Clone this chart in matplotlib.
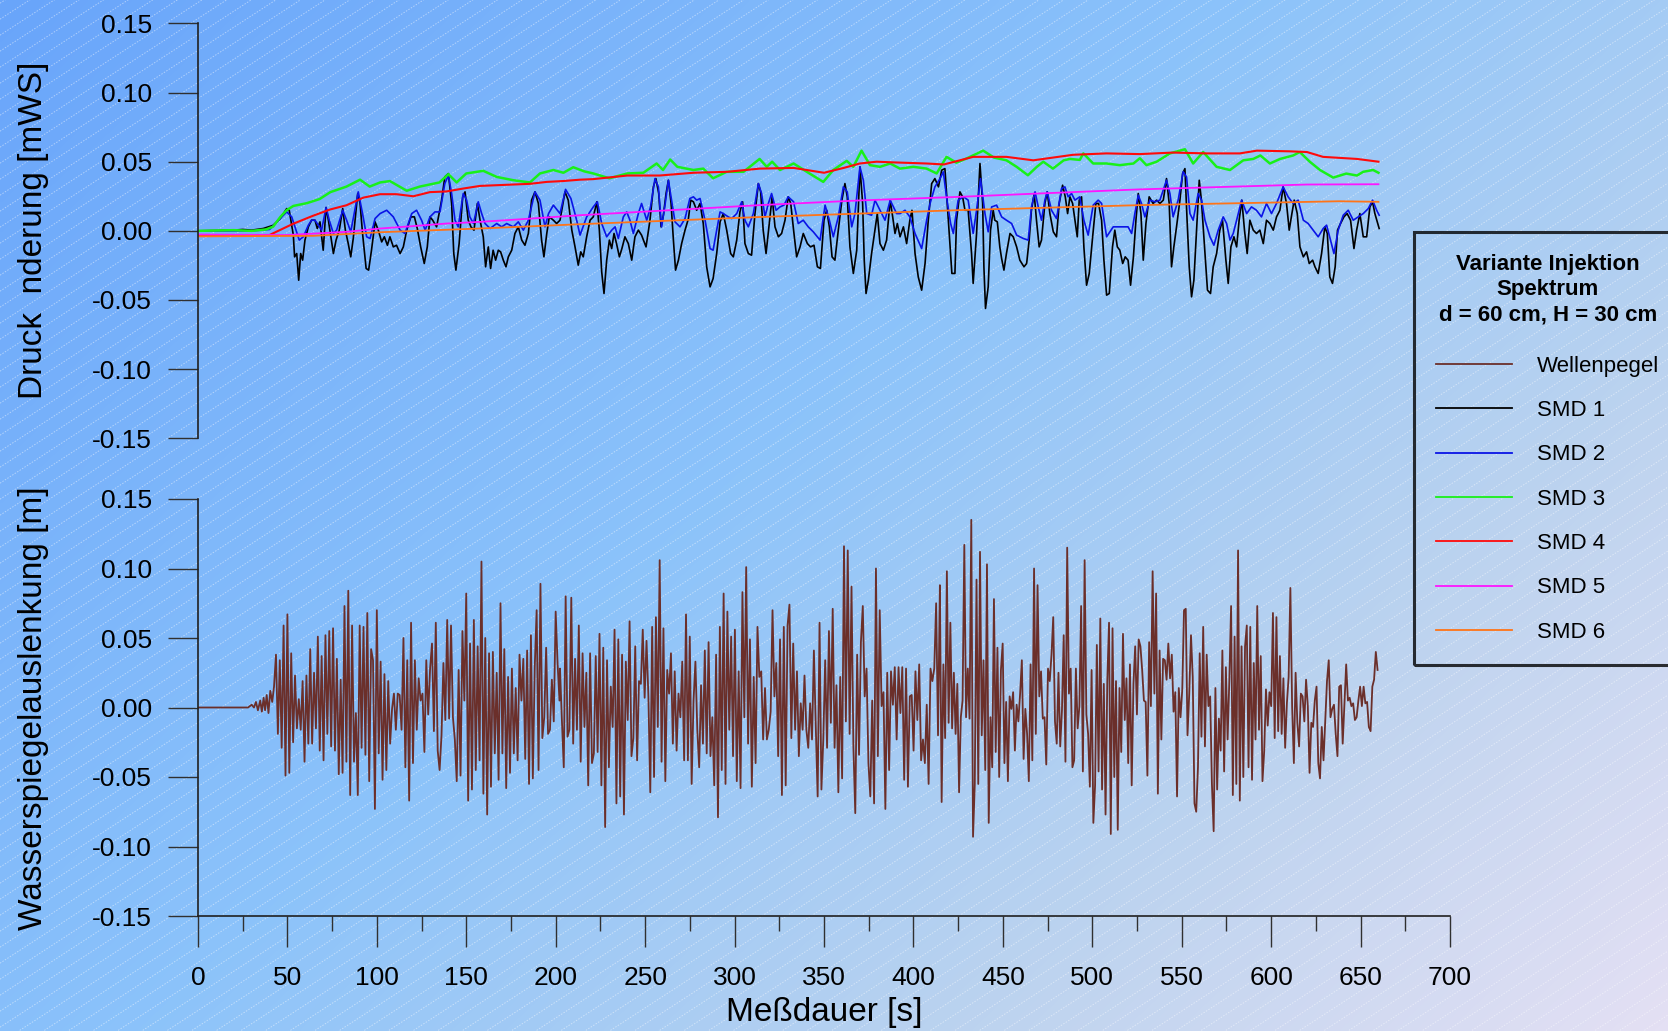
import numpy as np
import matplotlib
matplotlib.use("Agg")
import matplotlib.pyplot as plt
from matplotlib.colors import LinearSegmentedColormap

plt.rcParams['font.family'] = ['Liberation Sans', 'DejaVu Sans']
plt.rcParams['axes.unicode_minus'] = False

# ---------------- data (time [s], value [mm]) ----------------
smd1_points = [(0,0),(20,0.5),(25,1),(30,0.5),(36.5,1.7),(42,4),(46,8.9),(49.6,16.1),(51,14.9),(53.3,-3.1),(54,-18.8),(55.2,-16.4),(56.3,-35.7),(57.4,-16.4),(58.5,-21.2),(59.8,-6.7),(61.7,2.9),(63.5,7.7),(65.4,7.7),(66.7,1.7),(68.2,6.5),(70,-14),(71.6,16.9),(72.9,7.7),(74.4,-5.5),(75.7,-16.4),(77.2,-6.7),(79,0.5),(80.9,16.1),(82.4,0.5),(84,-9.2),(85.4,-18.8),(86.8,-5.5),(89.3,27),(90.6,19.8),(92,-1.9),(94,-27.2),(95.4,-28.4),(97,-14),(99,6.5),(100.8,0.5),(102.7,-8),(104.2,-4.3),(105.9,-10.4),(107.3,-4.3),(109.2,-11.6),(111,-10.4),(113,-16.4),(114.8,-11.6),(116.7,0.5),(119,10.1),(121,10.1),(122.6,1.7),(124.5,-11.6),(126.5,-23.6),(128.2,-11.6),(129.7,10.1),(131.2,7.7),(133.4,2.9),(136.2,22.2),(138,39),(140,41.4),(141.8,19.8),(143,-16.4),(144.2,-28.4),(146,-9.2),(148,24.6),(149.3,28.2),(151.1,7.7),(152.6,2.9),(154.3,0.5),(156.2,19.8),(157.7,7.7),(159.5,-4.3),(160.8,-26),(162.3,-11.6),(163.6,-27.2),(165,-14),(166.4,-21.2),(167.9,-14),(169.2,-15.2),(170.7,-21.2),(172.2,-26),(173.5,-18.8),(175.4,-14),(177.2,-1.9),(179.1,2.9),(181,-6.7),(182.8,-10.4),(184.7,-1.9),(186.5,22.2),(188.4,28.2),(190.3,19.8),(192.1,-6.7),(193.4,-18.8),(195,-1.9),(196.4,10.1),(198.7,7.7),(200.5,5.3),(202.4,7.7),(205.2,28.2),(207,22.2),(209,0.5),(210.8,-11.6),(212.6,-24.8),(214,-15.2),(215.4,-18.8),(217.3,-4.3),(219.2,7.7),(221,10.1),(223,21),(224.4,0.5),(225.7,-29.6),(227,-45.3),(228.5,-21.2),(230,-6.7),(231.3,-12.8),(232.6,-1.9),(234,-9.2),(235.6,-18.8),(237,-12.8),(238.7,-4.3),(240.6,-9.2),(242.5,-21.2),(244.3,-4.3),(246.2,0.5),(248,-3.1),(250.5,-11.6),(252.7,7.7),(254.6,31.8),(256,37.8),(257.6,27),(258.9,2.9),(260.2,11.3),(261.7,27),(263,36.6),(264.5,19.8),(265.8,-6.7),(267,-28.4),(268.6,-21.2),(270.4,-9.2),(272.3,0.5),(274.2,8.9),(275.5,22.2),(277,21),(278.8,14.9),(280.7,19.8),(282.5,5.3),(284.4,-26),(286.3,-40.5),(288,-34.5),(290,-16.4),(291.9,6.5),(293.7,12.5),(295.6,0.5),(297.8,-16.4),(299.3,-18.8),(301.2,-6.7),(303,13.7),(304.5,21),(305.8,-9.2),(307.7,-16.4),(309.5,-17.6),(311.4,12.5),(313.3,34.2),(314.6,28.2),(316,0.5),(317.6,-16.4),(319.4,5.3),(321,24.6),(322.6,2.9),(324.5,-4.3),(326.3,-1.9),(328.2,7.7),(330,24.6),(331.4,19.8),(333,0.5),(334.7,-18.8),(336.6,-11.6),(338.4,-1.9),(340.7,-9.2),(342.5,-11.6),(344.4,-10.4),(346.3,-26),(348,-27.2),(350,7.7),(351.5,14.9),(353,2.9),(354.5,-18.8),(356.1,-21.2),(358,0.5),(360,22.2),(361.7,34.2),(363,24.6),(364.5,-11.6),(366.4,-30.8),(368.3,-14),(370.1,46.3),(371.6,19.8),(372.5,-21.2),(373.5,-45.3),(374.8,-35.7),(376.6,-16.4),(378.5,0.5),(379.8,12.5),(381.3,-9.2),(383.2,-14),(385,-6.7),(387,22.2),(388.4,10.1),(389.7,-1.9),(391,5.3),(392.5,-4.3),(394.4,2.9),(396.2,-9.2),(398,7.7),(399.2,14.9),(400.9,-16.4),(402.7,-33.3),(404.6,-42.9),(406.5,-23.6),(408.3,7.7),(410.2,34.2),(412,37.8),(414,31.8),(415.8,43.9),(417.6,45),(419.5,7.7),(421.5,-30.8),(423.2,-30.8),(424.1,7.7),(426,28.2),(427.5,24.6),(428.8,14.9),(430.6,14.9),(432.5,-16.4),(433.4,-38),(435.3,-1.9),(437.2,48.7),(438.7,19.8),(439.4,-26),(440.3,-56.1),(441.8,-40.5),(443.1,0.5),(444.6,14.9),(445.5,7.7),(446.9,6.5),(448.3,-11.6),(449.3,-20),(450.6,-28.4),(452,-16.4),(454,-1.9),(455.8,-4.3),(457.7,-11.6),(459.5,-21.2),(461.8,-26),(463.3,-23.6),(464.7,-6.7),(466,14.9),(467.5,27),(468.8,7.7),(470.3,-11.6),(471.6,-6.7),(473.5,19.8),(474.8,28.2),(476.3,12.5),(478.2,-0.7),(480,-4.3),(481.5,19.8),(483.4,33),(484.9,24.6),(486.2,12.5),(487.5,24.6),(489,19.8),(490.3,7.7),(491.6,-4.3),(492.7,22.2),(494,24.6),(495.3,-11.6),(496.8,-39.3),(498.3,-30.8),(500.2,-4.3),(502,19.8),(503.5,19.8),(505.2,7.7),(506.5,-21.2),(508,-46.5),(509.5,-45.3),(511.3,-11.6),(512.6,0.5),(514,-11.6),(515.4,-14),(517,-23.6),(518.4,-18.8),(520,-21.2),(521.4,-39.3),(523,-18.8),(524.4,7.7),(525.7,27),(527.2,12.5),(528.5,-21.2),(530,5.3),(531.8,24.6),(534,19.8),(536,22.2),(537.8,19.8),(539.7,22.2),(541.5,37.8),(543,19.8),(544.3,-26),(545.6,-11.6),(547.1,2.9),(549,22.2),(550.5,41.4),(551.8,45),(553,7.7),(554.2,-26),(555.5,-47.7),(556.8,-35.7),(558.3,0.5),(559.8,36.6),(561,22.2),(563,-16.4),(564.4,-42.9),(566.1,-45.3),(567.6,-26),(569.5,-16.4),(571.3,0.5),(572.8,7.7),(574.7,-21.2),(576,-38),(577.5,-11.6),(579.2,-4.3),(580.7,-11.6),(582.1,7.7),(583.6,22.2),(585.1,0.5),(586.6,-16.4),(588.1,7.7),(590,0.5),(591.8,-1.9),(593.7,0.5),(595.6,-9.2),(597.4,7.7),(599.3,5.3),(601.2,0.5),(603,10.1),(604.9,14.9),(606.7,31.8),(608.6,19.8),(610.1,0.5),(611.6,12.5),(612.9,22.2),(614.6,12.5),(616.1,-11.6),(618,-18.8),(619.8,-15.2),(621.3,-23.6),(623.2,-21.2),(624.5,-26),(626.3,-30.8),(628.2,-16.4),(630,2.9),(631.4,-1.9),(632.8,-33.3),(634.3,-38),(635.8,-26),(637.1,0.5),(638.8,5.3),(640.7,10.1),(642.5,12.5),(644.4,7.7),(646.3,-12.8),(647.8,0.5),(649.6,12.5),(651.5,-4.3),(653.4,-4.3),(655.2,17.3),(656.7,21),(658,12.5),(660.4,1.7)]

smd2_points = [(0,0),(30,0),(40,1),(46,8.9),(49.6,13.7),(52.4,10.1),(54.8,0.5),(56.6,-6.7),(58.9,-4.3),(61.7,4.1),(63.5,7.7),(65.4,7.7),(67.3,4.1),(69.1,0.5),(71.6,16.9),(73.4,7.7),(75.7,-1.9),(77.5,0.5),(80.9,14.9),(83.1,7.7),(85.4,-0.7),(89.6,28.2),(92,12.5),(94.3,-4.3),(96.2,-5.5),(99,8.9),(101.8,12.5),(105.5,14.9),(109.2,10.1),(113,0.5),(115.7,-1.9),(119.5,12.5),(122.2,14.9),(125,7.7),(127,0.5),(129.7,10.1),(132.5,13.7),(135.3,13.7),(138,34.2),(140,40.2),(141.8,27),(143.7,7.7),(145.5,2.9),(148.3,27),(150.2,22.2),(152,10.1),(154,5.3),(156.7,21),(158.6,12.5),(160.5,5.3),(163.3,1.7),(167,5.3),(169.8,2.9),(172.6,5.3),(176.3,2.9),(179.1,6.5),(181.9,0.5),(184.7,7.7),(188.4,28.2),(191.2,22.2),(194,2.9),(196,12.5),(198.7,18.6),(202.4,12.5),(205.5,30),(208.5,23.4),(211.7,7.7),(213.6,-3.1),(217.3,10.1),(221,17.3),(223.3,21),(225.7,5.3),(228.5,-4.3),(231.3,0.5),(233.2,2.9),(235,-5.5),(237.8,10.1),(239.7,13.7),(241.5,7.7),(243.4,-1.9),(246.2,12.5),(248,19.8),(250.9,7.7),(253,17.3),(255.5,37.8),(257.4,31.8),(259.2,2.9),(261.1,18.6),(263,36.6),(264.8,22.2),(266.7,6.5),(269.5,2.9),(272.3,8.9),(275,23.4),(277,24.6),(278.8,22.2),(280.7,23.4),(283.5,7.7),(286.3,-12.8),(288,-14),(290,0.5),(291.9,13.7),(293.7,12.5),(296.5,10.1),(298.4,8.9),(301.2,12.5),(304,21),(305.8,7.7),(307.7,2.9),(310.5,12.5),(313.3,34.2),(315.1,27),(317,10.1),(318.9,19.8),(320.7,27),(323.2,14.9),(325.4,17.3),(327.6,18.6),(330,24.6),(333,21),(335.6,5.3),(338.4,7.7),(341.2,2.9),(344,-0.7),(347.8,-6.7),(350.6,18.6),(353,7.7),(355.2,-4.3),(358,10.1),(360.8,31.8),(363,28.2),(365.5,2.9),(367.3,12.5),(370.1,46.3),(372,36.6),(373.9,12.5),(376.6,11.3),(378.5,22.2),(381.3,14.9),(384.1,7.7),(387,22.2),(388.8,17.3),(390.6,12.5),(392.5,12.5),(395.3,14.9),(398,10.1),(400.9,-1.9),(404.6,-12.8),(407.4,7.7),(409.3,19.8),(412,31.8),(414.9,37.8),(416.7,42.7),(418.6,23.4),(420.8,5.3),(422.3,-1.9),(425,22.2),(428,24.6),(430.6,22.2),(433.4,-1.9),(435.3,14.9),(437.5,37.8),(440,12.5),(441.8,-0.7),(443.7,17.3),(446.5,18.6),(449.3,10.1),(452,7.7),(454.9,5.3),(457.7,-3.1),(461.4,-5.5),(464.2,-6.7),(466,17.3),(468,28.2),(469.8,17.3),(471.6,7.7),(473.5,22.2),(474.8,28.2),(477.2,14.9),(480,8.9),(482.8,30.6),(484.7,31.8),(486.5,24.6),(488.4,27),(490.3,22.2),(493,24.6),(495.3,7.7),(497.7,-3.1),(500.5,18.6),(503.3,22.2),(505.2,19.8),(508,-4.3),(511.7,2.9),(515.4,2.9),(520,2.9),(522,-1.9),(523.8,12.5),(525.7,25.8),(527.5,19.8),(529.4,10.1),(532.2,22.2),(535,21),(537.8,22.2),(541.5,36.6),(543.4,27),(545.2,10.1),(548,22.2),(550.8,42.7),(552.7,39),(554.6,12.5),(556.4,7.7),(559.2,27),(561.1,22.2),(563,7.7),(565.8,-4.3),(568,-10.4),(570.4,0.5),(573.2,10.1),(575.1,5.3),(577,-6.7),(578.8,-1.9),(580.7,7.7),(583.5,22.2),(586.3,12.5),(589,17.3),(591.8,14.9),(594.6,10.1),(597.4,19.8),(600.2,12.5),(603,19.8),(606.7,31.8),(609.5,24.6),(612.3,19.8),(615.1,22.2),(618,7.7),(620.7,5.3),(623.5,0.5),(626.3,-4.3),(629.1,1.7),(631,4.1),(633.2,-6.7),(635.1,-16.4),(637.5,0.5),(640.3,11.3),(643.1,14.9),(645.9,7.7),(648.7,10.1),(651.5,12.5),(654.3,16.1),(656.7,22.2),(659,14.9),(660.4,11.3)]

smd3_points = [(0,0),(20,0.5),(30,0),(38,1),(42,3),(46,10),(49.6,15),(53.3,18),(60.8,20),(68,23),(74,28),(83,32),(90.6,37),(96,32),(101.8,35),(107.3,36),(116.7,29),(124,32),(135,35),(140,41),(144.6,35),(150,41.5),(159.5,43.4),(167,39),(176.3,36.6),(185.6,35),(191.2,41.5),(198.7,44),(204.3,42),(209.8,46),(216,43),(221,41.5),(230,38),(240,41.5),(249,42),(256.4,48.7),(260,44),(264,51.6),(268,46.3),(277,44),(282.5,45),(288,38),(295.6,42.7),(305,42.7),(314,52),(318,46.3),(321,50),(325.4,44),(333,48.7),(342,41.4),(349.6,35.4),(355.2,44),(362.7,50.6),(366.4,46.3),(371,58),(375.7,47.5),(381.3,46.3),(387,48.7),(392.5,45),(400,46.3),(407.4,45),(413,41.5),(418.5,53.5),(424,49.3),(430,52.5),(439,58),(445,53),(452,51),(457.7,46.3),(464,40.2),(469,46.3),(472.6,50),(478,45),(484,51),(487.5,52),(493,51.3),(495,56),(500.5,48.7),(508,48.7),(515.4,47.5),(523,48.7),(526.6,52.5),(530.3,47.5),(536,50),(543.4,56),(551.8,59),(556.4,48.7),(562,57),(569.5,46.3),(577,44),(584.4,51),(590,52),(594,54.5),(599.3,48.7),(605,52),(612.3,54.5),(616,57),(621.6,50),(627.3,44),(634.7,38.5),(642,41.4),(648,40),(651.5,42.7),(657,44),(660,42)]

smd4_points = [(0,-3),(40,-3),(53,5),(64.5,11),(74,15.5),(83,18.5),(92.4,24),(101.8,26.5),(111,26.5),(120.4,25),(129.7,28),(139,28.5),(148.3,30.6),(157.7,32.5),(167,33),(176.3,33.5),(185.6,34),(195,35.4),(204,36),(213.6,37),(221,37.4),(240,40),(258,40),(277,42),(296,42.7),(314,45),(333,45.5),(350,42),(361,45.5),(370,48.7),(379.4,50),(389,49.5),(407.4,48.7),(417,48),(426,51),(433.4,53.5),(452,53.5),(467,51),(489.3,55),(508,56),(526.6,55.5),(545,56.6),(564,56),(582.5,56),(592,58),(610.5,57.5),(620,57),(629,53.5),(648,52),(660,50)]

smd5_points = [(0,-2.7),(40,-3),(50,-3),(64.5,-2),(83,-0.7),(102,1.7),(120,3.4),(139,5.3),(157.7,6.5),(176,8),(213.6,11.3),(258,14.5),(314,18.6),(370,22),(426,24.6),(470,27),(526.6,30),(580,32),(620,33.5),(660,33.7)]

smd6_points = [(0,-4),(64.5,-3.6),(101.8,-1),(157.7,1.7),(213.6,4.8),(314,10),(426,15),(526.6,18.6),(638,21.4),(660,21)]

# Wellenpegel [mm]: quiet start, then wave extrema in three time spans
wave_start_points = [(0,0),(28,0),(30,2),(31.3,0),(32.4,4),(33.5,-2),(34.8,5),(35.7,-3),(36.7,7),(37.5,-2),(38.4,9),(39.4,-4),(40.4,12),(41.5,4),(42.5,15)]
wave_span_a = (43.6, 202.1)
wave_a = [38,-19,34,-29,59,-49,67,-47,39,-25,23,-15,6,-16,19,-39,23,-26,42,-26,25,-15,51,-31,37,-38,52,-19,55,-28,57,-31,35,-48,20,-47,73,-39,84,-63,59,-39,-4,-63,59,-29,58,-34,68,-53,42,34,-73,70,-33,33,-52,24,-45,19,-26,-1,10,-16,10,9,-16,50,-43,34,-67,61,-40,34,-16,21,5,10,-32,34,-5,28,46,-17,61,-31,-45,-20,32,-9,63,-8,59,-7,-23,-53,27,-49,55,5,82,-67,46,-59,63,-45,44,-38,105,-62,50,-77,39,-57,40,-33,25,-52,75,-33,42,-58,22,-47,28,-33,14,-38,38,5,35,-37,41,-55,52,-51,29,70,-45,89,-22,-7,43,-19,-16,20,-10,69,32,5]
wave_span_b = (202.4, 414.8)
wave_b = [28,-9,-43,80,-21,-16,79,-26,35,-16,59,-39,39,-14,25,-56,39,-40,-33,37,-32,53,-56,43,-86,34,-43,15,-14,56,-69,49,-64,38,-77,33,-9,62,-35,-22,44,-38,19,17,56,7,48,8,-61,58,-50,65,-14,106,-39,57,-53,27,10,39,-26,26,-31,10,-7,33,-38,67,-38,51,-55,5,33,-16,-43,16,-26,41,-33,47,-35,-7,-56,38,-79,58,-45,82,-55,69,-16,51,-35,56,-53,26,-58,83,-7,101,-26,49,-57,22,-40,58,22,26,-23,14,-23,-16,-3,70,8,32,-35,49,-63,58,-56,59,74,-22,46,-16,26,-35,3,-16,23,-16,-29,3,-23,41,-14,-64,61,-59,-23,34,-29,55,-11,71,-29,16,-61,22,-51,116,-10,113,-19,87,-28,-76,38,-34,47,73,8,28,-40,-64,5,-69,100,-35,70,1,11,-73,25,-45,26,2,29,-23,29,-4,29,-52,28,-57,8,9,-31,26,-9,31,-38,-23,-40,2,-55,28,19,28,75,-20,88]
wave_span_c = (414.8, 659.5)
wave_c = [87,-68,31,-22,98,-11,61,-15,25,-19,17,-61,-7,5,117,-7,28,-8,135,-93,-55,92,-55,112,-20,34,-45,103,-83,-7,-43,78,-32,43,-50,27,46,-40,4,-53,8,-1,11,-31,2,-10,10,34,-37,-1,-19,-53,31,-38,100,-19,88,8,26,-8,-7,-41,28,19,38,65,-10,-26,25,-28,-2,52,-39,115,10,28,-43,-38,28,-15,1,73,-46,106,-5,-19,-57,27,-83,-56,45,-46,64,-59,17,-77,19,61,-91,57,-50,19,-88,14,-32,53,-9,21,-40,31,-56,17,44,-5,49,44,27,5,4,-49,47,1,98,10,82,-62,41,-23,35,34,20,46,21,38,-3,11,-64,14,-7,13,70,71,-20,10,52,22,-69,-75,-43,39,-21,58,-28,38,1,8,-55,-89,14,-59,-8,-31,41,-46,29,-23,20,73,-63,51,-55,113,-67,44,-50,44,59,-43,58,-52,32,-23,73,-16,37,-53,-31,13,-13,11,1,68,-22,65,-17,37,-19,21,-29,3,22,86,1,-40,25,-11,-28,10,8,-10,20,1,-47,-11,-14,5,15,-40,-51,-14,-38,-10,19,34,-7,-1,2,-19,-35,15,16,-26,3,31,5,7,1,3,-9,-7,5,15,1,15,3,4,-14,-17,15,20,40,27]

series_labels = ['Wellenpegel', 'SMD 1', 'SMD 2', 'SMD 3', 'SMD 4', 'SMD 5', 'SMD 6']
series_colors = ['#6b2f2a', '#000000', '#0a14e6', '#19f019', '#ff0a0a', '#ff14ff', '#ff7418']
series_widths = [1.3, 1.2, 1.2, 1.8, 1.5, 1.3, 1.3]
legend_title = 'Variante Injektion\nSpektrum\nd = 60 cm, H = 30 cm'
y_ticks = [-0.15, -0.10, -0.05, 0.00, 0.05, 0.10, 0.15]
x_major = list(range(0, 701, 50))
x_minor = list(range(25, 700, 50))

# ---------------- figure ----------------
W, H = 1668, 1031
fig = plt.figure(figsize=(W / 100, H / 100), dpi=100)

# gradient background with diagonal dotted hatch
bg = fig.add_axes([0, 0, 1, 1], zorder=-10)
bg.set_axis_off()
gx, gy = np.meshgrid(np.linspace(0, 1, 500), np.linspace(0, 1, 320))
grad = 0.6 * gx + 0.4 * gy
cmap = LinearSegmentedColormap.from_list(
    'bg', [(0, '#69a5fa'), (0.45, '#8cc3fa'), (0.75, '#bcd3ef'), (1, '#e4e0f4')])
bg.imshow(grad, cmap=cmap, extent=[0, 1, 0, 1], origin='upper', aspect='auto',
          interpolation='bilinear', vmin=0, vmax=1)
slope = 0.65 * W / H
step = 16.0 / H
for c in np.arange(-slope, 1.0, step):
    bg.plot([0, 1], [c, c + slope], color='white', alpha=0.45, lw=0.7,
            linestyle=(0, (1.5, 1.5)))
bg.set_xlim(0, 1)
bg.set_ylim(0, 1)

left = 198 / W
width = (1450 - 198) / W
ax1 = fig.add_axes([left, 1 - 438.3 / H, width, (438.3 - 23.4) / H])
ax2 = fig.add_axes([left, 1 - 916 / H, width, (916 - 499) / H])

for ax in (ax1, ax2):
    ax.set_facecolor('none')
    ax.set_xlim(0, 700)
    ax.set_ylim(-0.15, 0.15)
    ax.set_yticks(y_ticks)
    ax.set_yticklabels([f'{v:.2f}' for v in y_ticks])
    for sp in ('top', 'right'):
        ax.spines[sp].set_visible(False)
    ax.spines['left'].set_linewidth(1.2)
    ax.spines['left'].set_color('#202020')
    ax.tick_params(axis='y', direction='out', length=21.6, width=1.0,
                   color='#303030', labelsize=19, pad=11.5)

ax1.spines['bottom'].set_visible(False)
ax1.tick_params(axis='x', bottom=False, labelbottom=False)

ax2.spines['bottom'].set_linewidth(1.2)
ax2.spines['bottom'].set_color('#202020')
ax2.set_xticks(x_major)
ax2.set_xticks(x_minor, minor=True)
ax2.tick_params(axis='x', which='major', direction='out', length=22, width=1.0,
                color='#303030', labelsize=19, pad=14)
ax2.tick_params(axis='x', which='minor', direction='out', length=11, width=1.0,
                color='#303030')

def unzip(points):
    t = np.array([p[0] for p in points], dtype=float)
    v = np.array([p[1] for p in points], dtype=float) / 1000.0
    return t, v

handles = []
# wave
wt0, wv0 = unzip(wave_start_points)
wt = [wt0]
wv = [wv0]
for span, vals in ((wave_span_a, wave_a), (wave_span_b, wave_b), (wave_span_c, wave_c)):
    wt.append(np.linspace(span[0], span[1], len(vals)))
    wv.append(np.array(vals, dtype=float) / 1000.0)
wave_line, = ax2.plot(np.concatenate(wt), np.concatenate(wv),
                      color=series_colors[0], lw=series_widths[0])
handles.append(wave_line)

for pts, col, lw in zip([smd1_points, smd2_points, smd3_points, smd4_points,
                         smd5_points, smd6_points], series_colors[1:], series_widths[1:]):
    t, v = unzip(pts)
    ln, = ax1.plot(t, v, color=col, lw=lw)
    handles.append(ln)

# axis titles
fig.text(34 / W, 1 - 230 / H, 'Druck  nderung [mWS]', rotation=90,
         ha='center', va='center', fontsize=24)
fig.text(34 / W, 1 - 708 / H, 'Wasserspiegelauslenkung [m]', rotation=90,
         ha='center', va='center', fontsize=24)
fig.text(824 / W, 1 - 1012 / H, 'Meßdauer [s]', ha='center', va='center',
         fontsize=24)

leg = fig.legend(handles, series_labels, loc='upper left',
                 bbox_to_anchor=(1414 / W, 1 - 231.7 / H),
                 bbox_transform=fig.transFigure, fontsize=16,
                 title=legend_title,
                 title_fontproperties={'weight': 'bold', 'size': 16},
                 frameon=True, fancybox=False, edgecolor='black',
                 facecolor='none', borderpad=1.0, handlelength=3.4,
                 handletextpad=1.15, labelspacing=1.05, borderaxespad=0)
leg.get_frame().set_linewidth(2.2)
leg.get_title().set_multialignment('center')
leg.get_title().set_linespacing(1.28)
leg._legend_box.sep = 21.5
for lh in leg.get_lines():
    lh.set_linewidth(1.3)

fig.savefig('out.png', dpi=100)
